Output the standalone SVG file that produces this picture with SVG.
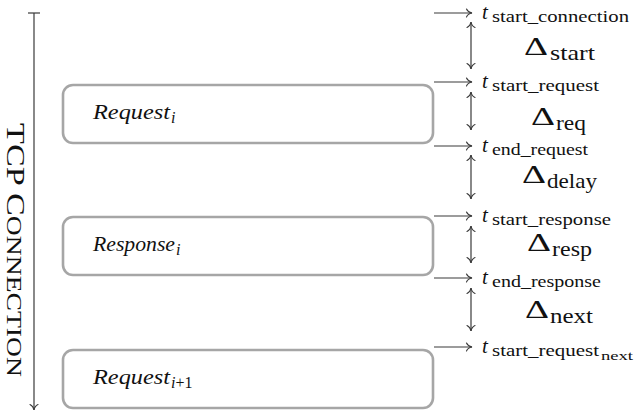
<svg xmlns="http://www.w3.org/2000/svg" width="635" height="412" viewBox="0 0 635 412">
  <style>
    .box { fill: #ffffff; stroke: #a6a6a6; stroke-width: 2.6; }
    .ln { fill: none; stroke: #3a3a3a; stroke-width: 1.2; }
    .tip { fill: none; stroke: #3a3a3a; stroke-width: 1.1; stroke-linecap: round; }
    text { font-family: "Liberation Serif", "DejaVu Serif", serif; fill: #111; }
    .tvar { font-size: 21px; font-style: italic; }
    .tsub { font-size: 17.5px; }
    .dsym { font-size: 25px; }
    .dsub { font-size: 21px; }
    .lbl { font-size: 22px; font-style: italic; }
    .lsub { font-size: 16px; font-style: italic; }
  </style>
  <defs>
    <marker id="head" markerUnits="userSpaceOnUse" markerWidth="12" markerHeight="12" viewBox="-7 -6 8 12" refX="0" refY="0" orient="auto-start-reverse">
      <path class="tip" d="M-5.5,-4 C-4.5,-1.6 -2,-0.4 0,0 C-2,0.4 -4.5,1.6 -5.5,4"/>
    </marker>
  </defs>

  <!-- time axis of the connection -->
  <g id="timeline">
    <line class="ln" x1="28" y1="13" x2="40" y2="13"/>
    <line class="ln" x1="34" y1="13" x2="34" y2="410" marker-end="url(#head)"/>
    <text transform="translate(7,123) rotate(90)" font-size="26" textLength="254" lengthAdjust="spacingAndGlyphs">TCP C<tspan font-size="21">ONNECTION</tspan></text>
  </g>

  <!-- message blocks -->
  <g id="request-i">
    <rect class="box" x="63" y="85" width="370" height="58" rx="10" ry="10"/>
    <text class="lbl" x="93" y="119" textLength="77" lengthAdjust="spacingAndGlyphs">Request</text>
    <text class="lsub" x="171" y="123">i</text>
  </g>
  <g id="response-i">
    <rect class="box" x="63" y="217" width="370" height="58" rx="10" ry="10"/>
    <text class="lbl" x="93" y="251" textLength="82" lengthAdjust="spacingAndGlyphs">Response</text>
    <text class="lsub" x="176" y="255">i</text>
  </g>
  <g id="request-next">
    <rect class="box" x="63" y="350" width="370" height="58" rx="10" ry="10"/>
    <text class="lbl" x="93" y="384" textLength="77" lengthAdjust="spacingAndGlyphs">Request</text>
    <text class="lsub" x="171" y="388">i<tspan font-style="normal">+1</tspan></text>
  </g>

  <!-- timestamps -->
  <g id="t-start-connection">
    <text class="tvar" x="482" y="19">t</text>
    <text class="tsub" x="492" y="22" textLength="137" lengthAdjust="spacingAndGlyphs">start_connection</text>
  </g>
  <g id="t-start-request">
    <text class="tvar" x="482" y="88">t</text>
    <text class="tsub" x="492" y="91" textLength="107" lengthAdjust="spacingAndGlyphs">start_request</text>
  </g>
  <g id="t-end-request">
    <text class="tvar" x="482" y="152">t</text>
    <text class="tsub" x="492" y="155" textLength="96" lengthAdjust="spacingAndGlyphs">end_request</text>
  </g>
  <g id="t-start-response">
    <text class="tvar" x="482" y="222">t</text>
    <text class="tsub" x="492" y="225" textLength="119" lengthAdjust="spacingAndGlyphs">start_response</text>
  </g>
  <g id="t-end-response">
    <text class="tvar" x="482" y="284">t</text>
    <text class="tsub" x="492" y="287" textLength="109" lengthAdjust="spacingAndGlyphs">end_response</text>
  </g>
  <g id="t-start-request-next">
    <text class="tvar" x="482" y="353">t</text>
    <text class="tsub" x="492" y="356" textLength="107" lengthAdjust="spacingAndGlyphs">start_request</text>
    <text font-size="13" x="601" y="360" textLength="32" lengthAdjust="spacingAndGlyphs">next</text>
  </g>

  <!-- intervals -->
  <g id="d-start">
    <text class="dsym" x="524" y="55" textLength="24" lengthAdjust="spacingAndGlyphs">Δ</text>
    <text class="dsub" x="550" y="60" textLength="45" lengthAdjust="spacingAndGlyphs">start</text>
  </g>
  <g id="d-req">
    <text class="dsym" x="531" y="125" textLength="24" lengthAdjust="spacingAndGlyphs">Δ</text>
    <text class="dsub" x="556" y="130" textLength="30" lengthAdjust="spacingAndGlyphs">req</text>
  </g>
  <g id="d-delay">
    <text class="dsym" x="522" y="183" textLength="24" lengthAdjust="spacingAndGlyphs">Δ</text>
    <text class="dsub" x="547" y="188" textLength="50" lengthAdjust="spacingAndGlyphs">delay</text>
  </g>
  <g id="d-resp">
    <text class="dsym" x="527" y="251" textLength="24" lengthAdjust="spacingAndGlyphs">Δ</text>
    <text class="dsub" x="552" y="256" textLength="40" lengthAdjust="spacingAndGlyphs">resp</text>
  </g>
  <g id="d-next">
    <text class="dsym" x="525" y="318" textLength="24" lengthAdjust="spacingAndGlyphs">Δ</text>
    <text class="dsub" x="550" y="323" textLength="43" lengthAdjust="spacingAndGlyphs">next</text>
  </g>

  <!-- connectors -->
  <g id="connectors">
    <line class="ln" x1="434" y1="13" x2="472" y2="13" marker-end="url(#head)"/>
    <line class="ln" x1="434" y1="82" x2="472" y2="82" marker-end="url(#head)"/>
    <line class="ln" x1="434" y1="146" x2="472" y2="146" marker-end="url(#head)"/>
    <line class="ln" x1="434" y1="216" x2="472" y2="216" marker-end="url(#head)"/>
    <line class="ln" x1="434" y1="278" x2="472" y2="278" marker-end="url(#head)"/>
    <line class="ln" x1="434" y1="347" x2="472" y2="347" marker-end="url(#head)"/>

    <line class="ln" x1="471" y1="22" x2="471" y2="69" marker-start="url(#head)" marker-end="url(#head)"/>
    <line class="ln" x1="471" y1="92" x2="471" y2="130" marker-start="url(#head)" marker-end="url(#head)"/>
    <line class="ln" x1="471" y1="155" x2="471" y2="199" marker-start="url(#head)" marker-end="url(#head)"/>
    <line class="ln" x1="471" y1="226" x2="471" y2="263" marker-start="url(#head)" marker-end="url(#head)"/>
    <line class="ln" x1="471" y1="288" x2="471" y2="331" marker-start="url(#head)" marker-end="url(#head)"/>
  </g>
</svg>
